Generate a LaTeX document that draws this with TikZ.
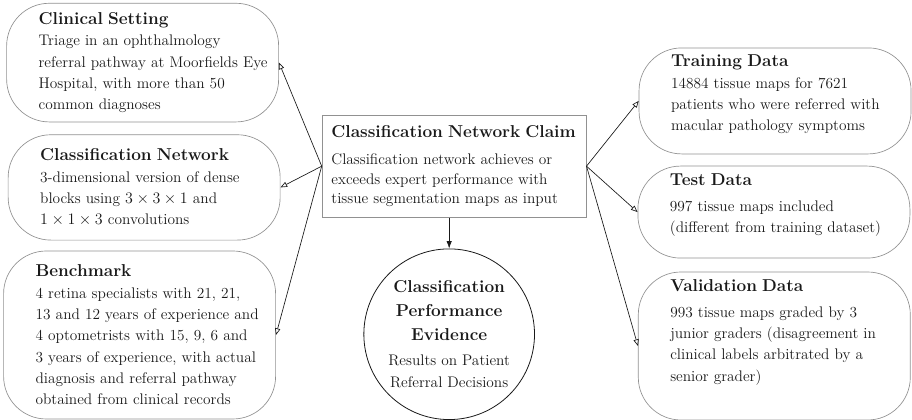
\documentclass[tikz,border=0pt]{standalone}
\usepackage{fontspec}
\usepackage{amsmath}
\usepackage{tikz}
\usetikzlibrary{arrows.meta, positioning}
\definecolor{ctxgray}{RGB}{145,145,145}
\definecolor{lndark}{RGB}{25,25,25}
\newcommand{\hd}[1]{\mbox{\fontsize{12.9}{16}\selectfont\bfseries #1}}
\tikzset{
  context/.style={rectangle, draw=ctxgray, rounded corners=32pt, line width=0.5pt,
    minimum width=204pt, text width=156pt, align=left, inner ysep=5pt,
    font=\fontsize{11.5}{16}\selectfont, text=lndark},
  claimbox/.style={rectangle, draw=ctxgray, line width=0.6pt,
    text width=184pt, align=left, inner xsep=7pt, minimum height=76.5pt,
    font=\fontsize{11.5}{14.6}\selectfont, text=lndark},
  evidence/.style={circle, draw=lndark, line width=0.6pt, minimum size=128pt,
    inner sep=0pt, align=center, font=\fontsize{11.5}{16.5}\selectfont, text=lndark},
  ctxarrow/.style={-{Triangle[open, length=5pt, width=4pt]}, line width=0.5pt, color=lndark},
  suparrow/.style={-{Latex[length=5.5pt, width=4pt]}, line width=0.5pt, color=lndark}
}

\begin{document}
\begin{tikzpicture}
  \useasboundingbox (0,0) rectangle (24.04,-11.07);

  % Central claim
  \node[claimbox] (claim) at (11.97, -4.38) {
    \hd{Classification Network Claim}\\[6pt]
    Classification network achieves or\\
    exceeds expert performance with\\
    tissue segmentation maps as input
  };

  % Contexts on the left
  \node[context, minimum height=89pt] (clin) at (3.76, -1.65) {
    \hd{Clinical Setting}\\
    \mbox{Triage in an ophthalmology}\\
    \mbox{referral pathway at Moorfields Eye}\\
    \mbox{Hospital, with more than 50}\\
    \mbox{common diagnoses}
  };

  \node[context, minimum height=79pt] (net) at (3.80, -4.94) {
    \hd{Classification Network}\\
    \mbox{3-dimensional version of dense}\\
    \mbox{blocks using $3 \times 3 \times 1$ and}\\
    \mbox{$1 \times 1 \times 3$ convolutions}
  };

  \node[context, minimum height=126pt] (bench) at (3.68, -8.83) {
    \hd{Benchmark}\\
    \mbox{4 retina specialists with 21, 21,}\\
    \mbox{13 and 12 years of experience and}\\
    \mbox{4 optometrists with 15, 9, 6 and}\\
    \mbox{3 years of experience, with actual}\\
    \mbox{diagnosis and referral pathway}\\
    \mbox{obtained from clinical records}
  };

  % Contexts on the right (text sits a little high in these)
  \node[context, minimum height=79.5pt, text depth=60pt] (train) at (20.43, -2.66) {
    \hd{Training Data}\\
    \mbox{14884 tissue maps for 7621}\\
    \mbox{patients who were referred with}\\
    \mbox{macular pathology symptoms}
  };

  \node[context, minimum height=69pt, text depth=48pt] (test) at (20.40, -5.59) {
    \hd{Test Data}\\[3pt]
    \mbox{997 tissue maps included}\\
    \mbox{(different from training dataset)}
  };

  \node[context, minimum height=111pt, text depth=90pt] (valid) at (20.41, -9.12) {
    \hd{Validation Data}\\[3pt]
    \mbox{993 tissue maps graded by 3}\\
    \mbox{junior graders (disagreement in}\\
    \mbox{clinical labels arbitrated by a}\\
    \mbox{senior grader)}
  };

  % Evidence
  \node[evidence] (ev) at (11.84, -8.81) {
    \hd{Classification}\\[1.5pt]
    \hd{Performance}\\[1.5pt]
    \hd{Evidence}\\[2pt]
    Results on Patient\\
    Referral Decisions
  };

  % Context links
  \draw[ctxarrow] (claim.west) -- (clin.east);
  \draw[ctxarrow] (claim.west) -- (net.east);
  \draw[ctxarrow] (claim.west) -- (bench.east);
  \draw[ctxarrow] (claim.east) -- (train.west);
  \draw[ctxarrow] (claim.east) -- (test.west);
  \draw[ctxarrow] (claim.east) -- (valid.west);

  % Supported by
  \draw[suparrow] (claim.south -| ev.north) -- (ev.north);
\end{tikzpicture}
\end{document}
